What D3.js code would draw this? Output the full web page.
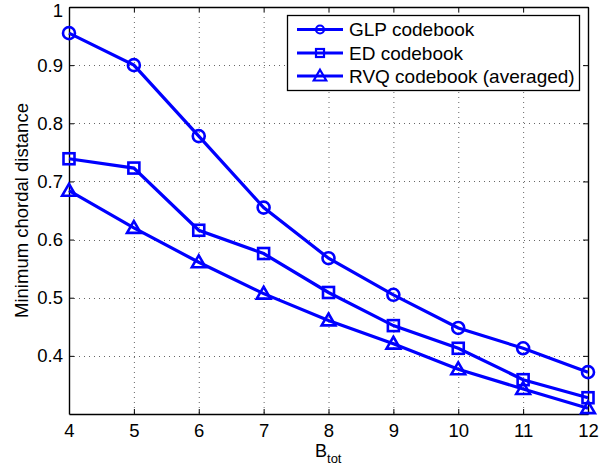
<!DOCTYPE html>
<html>
<head>
<meta charset="utf-8">
<script src="https://cdn.jsdelivr.net/npm/d3@7"></script>
<style>
  html, body { margin: 0; padding: 0; background: #fff; }
  svg { display: block; font-family: "Liberation Sans", Arial, Helvetica, sans-serif; }
</style>
</head>
<body>
<svg id="chart" width="611" height="472"></svg>
<script>
// Codebook size (total feedback bits) on the x axis
const bTot = [4, 5, 6, 7, 8, 9, 10, 11, 12];
// Minimum chordal distance for each codebook design
const glp = [0.955, 0.900, 0.778, 0.655, 0.568, 0.505, 0.448, 0.413, 0.372];
const ed  = [0.739, 0.723, 0.616, 0.576, 0.509, 0.452, 0.413, 0.359, 0.328];
const rvq = [0.684, 0.620, 0.561, 0.507, 0.461, 0.421, 0.377, 0.343, 0.310];
const seriesNames = ["GLP codebook", "ED codebook", "RVQ codebook (averaged)"];
const xTicks = [4, 5, 6, 7, 8, 9, 10, 11, 12];
const yTicks = [0.4, 0.5, 0.6, 0.7, 0.8, 0.9, 1];

const series = [
  { name: seriesNames[0], values: glp, marker: "circle" },
  { name: seriesNames[1], values: ed, marker: "square" },
  { name: seriesNames[2], values: rvq, marker: "triangle" }
];

const svg = d3.select("#chart");
const m = { left: 69, right: 588, top: 7, bottom: 414 };
const blue = "#0000ff";

const x = d3.scaleLinear().domain([4, 12]).range([m.left, m.right]);
const y = d3.scaleLinear().domain([0.3, 1]).range([m.bottom, m.top]);

// dotted grid
const grid = svg.append("g").attr("stroke", "#666").attr("stroke-width", 1)
  .attr("stroke-dasharray", "1,4");
grid.selectAll(".gx").data(xTicks.slice(1, -1)).enter().append("line")
  .attr("x1", d => x(d) + 0.5).attr("x2", d => x(d) + 0.5)
  .attr("y1", m.top).attr("y2", m.bottom);
grid.selectAll(".gy").data(yTicks.slice(0, -1)).enter().append("line")
  .attr("y1", d => Math.round(y(d)) + 0.5).attr("y2", d => Math.round(y(d)) + 0.5)
  .attr("x1", m.left).attr("x2", m.right);

// axes with inward ticks on all four sides
const fmt = d => d === 1 ? "1" : d3.format(".1f")(d);
const axB = svg.append("g").attr("transform", `translate(0,${m.bottom})`)
  .call(d3.axisBottom(x).tickValues(xTicks).tickSizeInner(-5).tickSizeOuter(0).tickPadding(10).tickFormat(d3.format("d")));
const axT = svg.append("g").attr("transform", `translate(0,${m.top})`)
  .call(d3.axisTop(x).tickValues(xTicks).tickSizeInner(-5).tickSizeOuter(0).tickFormat(""));
const axL = svg.append("g").attr("transform", `translate(${m.left},0)`)
  .call(d3.axisLeft(y).tickValues(yTicks).tickSizeInner(-5).tickSizeOuter(0).tickPadding(6).tickFormat(fmt));
const axR = svg.append("g").attr("transform", `translate(${m.right},0)`)
  .call(d3.axisRight(y).tickValues(yTicks).tickSizeInner(-5).tickSizeOuter(0).tickFormat(""));
[axB, axT, axL, axR].forEach(a => {
  a.select(".domain").attr("stroke", "#000").attr("stroke-width", 1.4);
  a.selectAll(".tick line").attr("stroke", "#000");
  a.selectAll("text").attr("font-size", 18.5).attr("fill", "#000")
    .attr("font-family", "'Liberation Sans', Arial, sans-serif");
});
// keep the top label inside the canvas
axL.selectAll(".tick").filter(d => d === 1).select("text").attr("dy", "0.5em");

// lines and markers
const line = d3.line().x((d, i) => x(bTot[i])).y(d => y(d));
function drawMarker(g, type, cx, cy, sz, sw) {
  if (type === "circle") {
    g.append("circle").attr("cx", cx).attr("cy", cy).attr("r", sz)
      .attr("fill", "none").attr("stroke", blue).attr("stroke-width", sw);
  } else if (type === "square") {
    g.append("rect").attr("x", cx - sz).attr("y", cy - sz).attr("width", 2 * sz).attr("height", 2 * sz)
      .attr("fill", "none").attr("stroke", blue).attr("stroke-width", sw);
  } else {
    const s = sz * 1.25;
    g.append("path")
      .attr("d", `M${cx},${cy - s}L${cx + s},${cy + s * 0.72}L${cx - s},${cy + s * 0.72}Z`)
      .attr("fill", "none").attr("stroke", blue).attr("stroke-width", sw).attr("stroke-linejoin", "miter");
  }
}

const plot = svg.append("g");
series.forEach(s => {
  plot.append("path").datum(s.values).attr("d", line)
    .attr("fill", "none").attr("stroke", blue).attr("stroke-width", 3.2);
  const mg = plot.append("g");
  s.values.forEach((v, i) => drawMarker(mg, s.marker, x(bTot[i]), y(v), s.marker === "circle" ? 6 : 5.5, 2.6));
});

// legend
const lg = svg.append("g");
lg.append("rect").attr("x", 287.5).attr("y", 15.5).attr("width", 292).attr("height", 75)
  .attr("fill", "#fff").attr("stroke", "#000").attr("stroke-width", 1.3);
const rowY = [29.5, 53, 76];
series.forEach((s, i) => {
  lg.append("line").attr("x1", 297).attr("x2", 343).attr("y1", rowY[i]).attr("y2", rowY[i])
    .attr("stroke", blue).attr("stroke-width", 3.2);
  drawMarker(lg, s.marker, 320, rowY[i], s.marker === "triangle" ? 5 : 4, 2.2);
  lg.append("text").attr("x", 349).attr("y", rowY[i]).attr("dy", "0.36em")
    .attr("font-size", 19).attr("fill", "#000").text(s.name);
});

// axis titles
const xl = svg.append("text").attr("x", 315).attr("y", 457).attr("font-size", 18).attr("fill", "#000");
xl.append("tspan").text("B");
xl.append("tspan").attr("font-size", 13).attr("dy", 6).text("tot");

svg.append("text").attr("transform", `translate(28,${(m.top + m.bottom) / 2}) rotate(-90)`)
  .attr("text-anchor", "middle").attr("font-size", 18.5).attr("fill", "#000")
  .text("Minimum chordal distance");
</script>
</body>
</html>
